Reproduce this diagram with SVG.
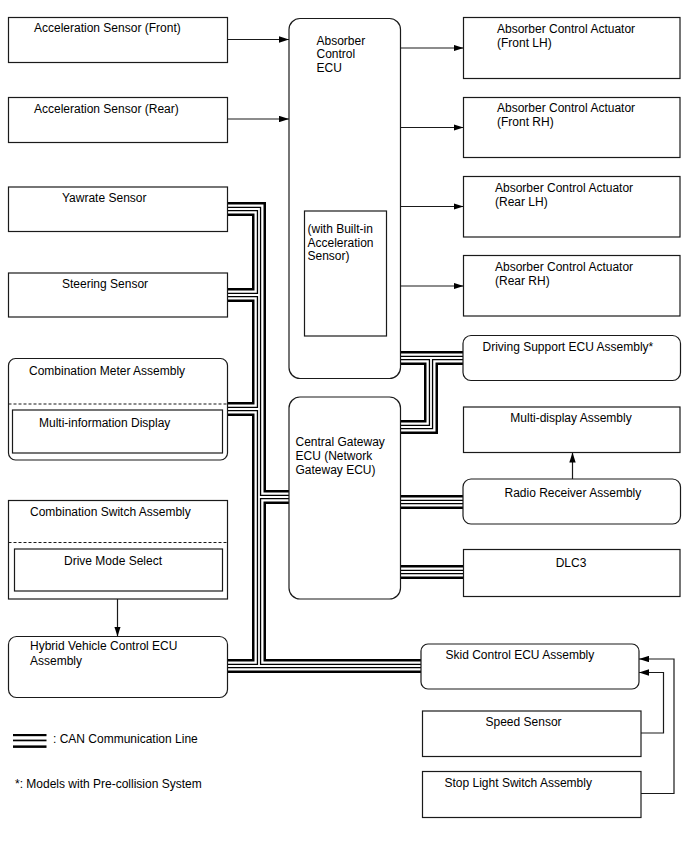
<svg xmlns="http://www.w3.org/2000/svg" xmlns:xlink="http://www.w3.org/1999/xlink" width="688" height="852" viewBox="0 0 688 852">
<style>
.box{fill:#fff;stroke:#1a1a1a;stroke-width:1.2}
.dash{fill:none;stroke:#1a1a1a;stroke-width:1.2;stroke-dasharray:3 2}
.t{font-family:"Liberation Sans",Arial,sans-serif;font-size:12px;fill:#000}
.tc{text-anchor:middle}
.arr{fill:none;stroke:#1a1a1a;stroke-width:1.2;marker-end:url(#ah)}
.b1{fill:none;stroke:#000;stroke-width:14}
.b2{fill:none;stroke:#fff;stroke-width:9}
.b3{fill:none;stroke:#000;stroke-width:4.4}
.b4{fill:none;stroke:#fff;stroke-width:1.8}
</style>
<defs>
<marker id="ah" markerUnits="userSpaceOnUse" markerWidth="10" markerHeight="6.4" refX="10" refY="3.2" orient="auto">
<path d="M0,0 L10,3.2 L0,6.4 Z" fill="#000"/>
</marker>
<path id="bus" d="M227.5,209 H259 V666 M227.5,295 H259 M227.5,409 H259 M259,497 H289 M227.5,666 H421 M400.5,358 H463 M431,358 V427 H400.5 M400.5,502 H463 M400.5,572 H463"/>
</defs>
<rect width="688" height="852" fill="#fff"/>

<g id="connectors">
<use xlink:href="#bus" class="b1"/>
<use xlink:href="#bus" class="b2"/>
<use xlink:href="#bus" class="b3"/>
<use xlink:href="#bus" class="b4"/>
<path class="arr" d="M227.5,39.5 H289"/>
<path class="arr" d="M227.5,119 H289"/>
<path class="arr" d="M400.5,48 H463.5"/>
<path class="arr" d="M400.5,127.5 H463.5"/>
<path class="arr" d="M400.5,206.5 H463.5"/>
<path class="arr" d="M400.5,286 H463.5"/>
<path class="arr" d="M572.5,479 V452.5"/>
<path class="arr" d="M117.5,599 V636.5"/>
<path class="arr" d="M641,733 H663.5 V672.5 H639"/>
<path class="arr" d="M641,793.5 H674 V659 H639"/>
</g>

<g id="accel-front"><rect class="box" x="8.5" y="17.5" width="219" height="45"/><text class="t" x="34" y="32">Acceleration Sensor (Front)</text></g>
<g id="accel-rear"><rect class="box" x="8.5" y="97.5" width="219" height="45"/><text class="t" x="34" y="113">Acceleration Sensor (Rear)</text></g>
<g id="yawrate"><rect class="box" x="8.5" y="187" width="219" height="44.5"/><text class="t" x="62" y="201.5">Yawrate Sensor</text></g>
<g id="steering"><rect class="box" x="8.5" y="273" width="219" height="44"/><text class="t" x="62" y="288">Steering Sensor</text></g>
<g id="combination-meter"><rect class="box" x="8.5" y="358.5" width="219" height="101.5" rx="7"/><line class="dash" x1="8.5" y1="404" x2="227.5" y2="404"/><rect class="box" x="12.5" y="410" width="210" height="43"/><text class="t" x="29" y="375">Combination Meter Assembly</text><text class="t" x="39" y="427">Multi-information Display</text></g>
<g id="combination-switch"><rect class="box" x="8.5" y="500.5" width="219" height="98.5"/><line class="dash" x1="8.5" y1="542.5" x2="227.5" y2="542.5"/><rect class="box" x="14.5" y="549" width="208" height="42"/><text class="t" x="30" y="516">Combination Switch Assembly</text><text class="t" x="64" y="564.5">Drive Mode Select</text></g>
<g id="hybrid-ecu"><rect class="box" x="8.5" y="636.5" width="219" height="61" rx="8"/><text class="t" x="30" y="650">Hybrid Vehicle Control ECU</text><text class="t" x="30" y="664.5">Assembly</text></g>
<g id="absorber-ecu"><rect class="box" x="289" y="18.5" width="111.5" height="360" rx="11"/><text class="t" x="316.5" y="44.5">Absorber</text><text class="t" x="316.5" y="58">Control</text><text class="t" x="316.5" y="72">ECU</text><rect class="box" x="304.5" y="211" width="82" height="125"/><text class="t" x="307.5" y="233">(with Built-in</text><text class="t" x="307.5" y="246.5">Acceleration</text><text class="t" x="307.5" y="260">Sensor)</text></g>
<g id="gateway-ecu"><rect class="box" x="289" y="397" width="111.5" height="202" rx="11"/><text class="t" x="295.5" y="446">Central Gateway</text><text class="t" x="295.5" y="460">ECU (Network</text><text class="t" x="295.5" y="474">Gateway ECU)</text></g>
<g id="actuator-front-lh"><rect class="box" x="463.5" y="17.5" width="216.5" height="61"/><text class="t" x="497" y="32.5">Absorber Control Actuator</text><text class="t" x="497" y="46.5">(Front LH)</text></g>
<g id="actuator-front-rh"><rect class="box" x="463.5" y="97.5" width="216.5" height="60"/><text class="t" x="497" y="112">Absorber Control Actuator</text><text class="t" x="497" y="126">(Front RH)</text></g>
<g id="actuator-rear-lh"><rect class="box" x="463.5" y="176.5" width="216.5" height="60.5"/><text class="t" x="495" y="191.5">Absorber Control Actuator</text><text class="t" x="495" y="205.5">(Rear LH)</text></g>
<g id="actuator-rear-rh"><rect class="box" x="463.5" y="255.5" width="216.5" height="60.5"/><text class="t" x="495" y="270.5">Absorber Control Actuator</text><text class="t" x="495" y="284.5">(Rear RH)</text></g>
<g id="driving-support"><rect class="box" x="463" y="335.5" width="217.5" height="45" rx="8"/><text class="t" x="482.5" y="350.5">Driving Support ECU Assembly*</text></g>
<g id="multi-display"><rect class="box" x="463.5" y="407" width="216.5" height="45.5"/><text class="t tc" x="571" y="422">Multi-display Assembly</text></g>
<g id="radio-receiver"><rect class="box" x="463" y="479" width="217.5" height="45" rx="8"/><text class="t" x="504.5" y="496.5">Radio Receiver Assembly</text></g>
<g id="dlc3"><rect class="box" x="463.5" y="549.5" width="216.5" height="47"/><text class="t tc" x="571" y="566.5">DLC3</text></g>
<g id="skid-control"><rect class="box" x="421" y="644" width="218" height="45" rx="7"/><text class="t" x="445.5" y="659">Skid Control ECU Assembly</text></g>
<g id="speed-sensor"><rect class="box" x="422.5" y="711" width="218.5" height="45.5"/><text class="t" x="485.5" y="726">Speed Sensor</text></g>
<g id="stop-light"><rect class="box" x="422.5" y="771.5" width="218.5" height="46"/><text class="t" x="444.5" y="786.5">Stop Light Switch Assembly</text></g>

<g id="legend">
<rect x="13" y="734" width="33.5" height="2.2" fill="#000"/>
<rect x="13" y="739.6" width="33.5" height="1.7" fill="#000"/>
<rect x="13" y="745.4" width="33.5" height="2.5" fill="#000"/>
<text class="t" x="53" y="743">: CAN Communication Line</text>
<text class="t" x="15" y="787.5">*: Models with Pre-collision System</text>
</g>
</svg>
